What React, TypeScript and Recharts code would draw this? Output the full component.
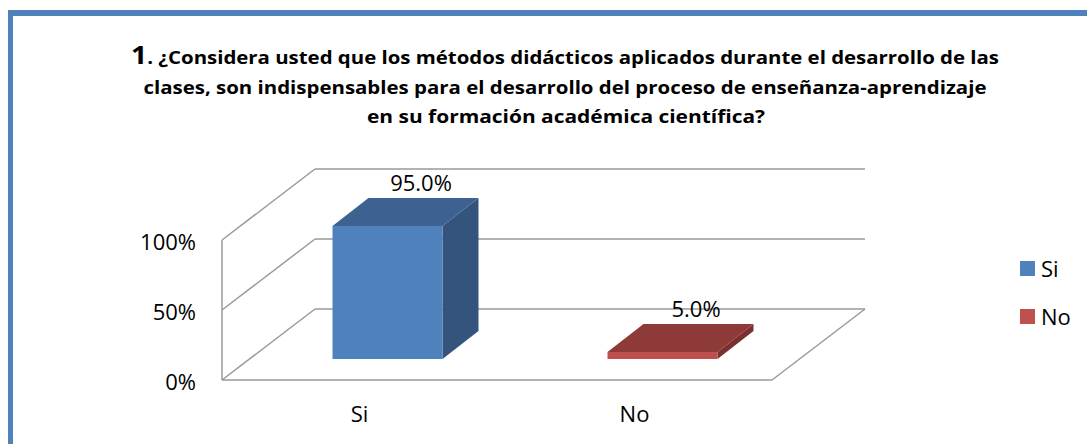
import React from 'react';
import { BarChart, Bar, XAxis, YAxis, CartesianGrid, Legend, LabelList, Cell } from 'recharts';

// ---- data ----
const categories = ['Si', 'No'];
const values = [95.0, 5.0];
const yTicks = [0, 50, 100];
const titleNumber = '1';
const titleLines = [
  '. ¿Considera usted que los métodos didácticos aplicados durante el desarrollo de las',
  'clases, son indispensables para el desarrollo del proceso de enseñanza-aprendizaje',
  'en su formación académica científica?',
];

// ---- styles ----
const PALETTE = [
  { front: '#4F81BD', top: '#3D6291', side: '#34547E' },
  { front: '#C0504D', top: '#8E3A38', side: '#79302E' },
];
const GRID = '#9A9A9A';
const FONT = '"Open Sans", "Noto Sans", sans-serif';
const WALL_DX = 93;
const WALL_DY = -71;
const BAR_SHIFT_X = 27.5;
const BAR_SHIFT_Y = -21;
const BAR_DX = 36;
const BAR_DY = -28;

const data = categories.map((c, i) => ({ name: c, value: values[i] }));

const renderHLine = (p: any) => {
  const { x1, y1, x2, index } = p;
  const floorY = p.y != null && p.height != null ? p.y + p.height : null;
  const isFloor = floorY != null ? Math.abs(y1 - floorY) < 0.5 : index === 0;
  return (
    <g key={p.key ?? `h-${index}`}>
      <line x1={x1} y1={y1} x2={x1 + WALL_DX} y2={y1 + WALL_DY} stroke={GRID} strokeWidth={1.5} />
      <line x1={x1 + WALL_DX} y1={y1 + WALL_DY} x2={x2 + WALL_DX} y2={y1 + WALL_DY} stroke={GRID} strokeWidth={1.5} />
      {isFloor && (
        <line x1={x2} y1={y1} x2={x2 + WALL_DX} y2={y1 + WALL_DY} stroke={GRID} strokeWidth={1.5} />
      )}
    </g>
  );
};

const Bar3D = (p: any) => {
  const { x, y, width, height, payload } = p;
  if (height == null || width == null) return null;
  const idx = Math.max(0, categories.indexOf(payload?.name));
  const col = PALETTE[idx % PALETTE.length];
  const bx = x + BAR_SHIFT_X;
  const by = y + BAR_SHIFT_Y;
  const w = width;
  const h = height;
  const top = `${bx},${by} ${bx + BAR_DX},${by + BAR_DY} ${bx + w + BAR_DX},${by + BAR_DY} ${bx + w},${by}`;
  const side = `${bx + w},${by} ${bx + w + BAR_DX},${by + BAR_DY} ${bx + w + BAR_DX},${by + h + BAR_DY} ${bx + w},${by + h}`;
  return (
    <g>
      <polygon points={side} fill={col.side} />
      <polygon points={top} fill={col.top} />
      <rect x={bx} y={by} width={w} height={h} fill={col.front} />
    </g>
  );
};

const renderLabel = (p: any) => {
  const { x, y, width, value } = p;
  return (
    <text
      x={x + width / 2 + 61}
      y={y - 56}
      textAnchor="middle"
      fontFamily={FONT}
      fontSize={22}
      fill="#000"
    >
      {`${Number(value).toFixed(1)}%`}
    </text>
  );
};

const YTick = (p: any) => {
  const { x, y, payload } = p;
  return (
    <text x={x} y={y} dy={10} textAnchor="end" fontFamily={FONT} fontSize={22} fill="#000">
      {`${payload.value}%`}
    </text>
  );
};

const XTick = (p: any) => {
  const { x, y, payload } = p;
  return (
    <text x={x} y={y} dy={42} textAnchor="middle" fontFamily={FONT} fontSize={22} fill="#000">
      {payload.value}
    </text>
  );
};

const LegendContent = () => (
  <div style={{ fontFamily: FONT, fontSize: 22, color: '#000' }}>
    {categories.map((c, i) => (
      <div key={c} style={{ display: 'flex', alignItems: 'center', height: 48 }}>
        <span
          style={{
            display: 'inline-block',
            width: 15,
            height: 15,
            background: PALETTE[i].front,
            marginRight: 6,
          }}
        />
        <span style={{ lineHeight: '22px' }}>{c}</span>
      </div>
    ))}
  </div>
);

export default function App() {
  return (
    <div
      style={{
        position: 'absolute',
        left: 0,
        top: 0,
        width: 1087,
        height: 444,
        background: '#fff',
        overflow: 'hidden',
      }}
    >
      <div
        style={{
          position: 'absolute',
          left: 8,
          top: 10,
          width: 2000,
          height: 1000,
          borderLeft: '5px solid #4F81BD',
          borderTop: '6px solid #4F81BD',
        }}
      />
      <svg width={1087} height={135} style={{ position: 'absolute', left: 0, top: 0 }}>
        <text
          x={565}
          y={64}
          textAnchor="middle"
          fontFamily={FONT}
          fontWeight="bold"
          fill="#000"
          textLength={868}
          lengthAdjust="spacingAndGlyphs"
        >
          <tspan fontSize={25}>{titleNumber}</tspan>
          <tspan fontSize={18}>{titleLines[0]}</tspan>
        </text>
        <text
          x={565}
          y={94}
          textAnchor="middle"
          fontFamily={FONT}
          fontWeight="bold"
          fontSize={18}
          fill="#000"
          textLength={843}
          lengthAdjust="spacingAndGlyphs"
        >
          {titleLines[1]}
        </text>
        <text
          x={566}
          y={123}
          textAnchor="middle"
          fontFamily={FONT}
          fontWeight="bold"
          fontSize={18}
          fill="#000"
          textLength={398}
          lengthAdjust="spacingAndGlyphs"
        >
          {titleLines[2]}
        </text>
      </svg>
      <div style={{ position: 'absolute', left: 0, top: 0 }}>
        <BarChart
          width={1087}
          height={444}
          data={data}
          margin={{ top: 240, right: 315, bottom: 24, left: 162 }}
        >
          <CartesianGrid vertical={false} horizontal={renderHLine} stroke={GRID} />
          <XAxis
            dataKey="name"
            height={40}
            tickLine={false}
            tickSize={0}
            tickMargin={0}
            axisLine={{ stroke: GRID, strokeWidth: 1.5 }}
            tick={<XTick />}
            interval={0}
          />
          <YAxis
            width={60}
            domain={[0, 100]}
            ticks={yTicks}
            tickLine={false}
            tickSize={0}
            tickMargin={26}
            axisLine={{ stroke: GRID, strokeWidth: 1.5 }}
            tick={<YTick />}
            interval={0}
          />
          <Legend
            layout="vertical"
            align="center"
            verticalAlign="middle"
            content={<LegendContent />}
            wrapperStyle={{ left: 1020, top: 244, width: 70 }}
          />
          <Bar dataKey="value" barSize={110} shape={<Bar3D />} isAnimationActive={false}>
            {data.map((d, i) => (
              <Cell key={d.name} fill={PALETTE[i].front} />
            ))}
            <LabelList dataKey="value" content={renderLabel} />
          </Bar>
        </BarChart>
      </div>
    </div>
  );
}
